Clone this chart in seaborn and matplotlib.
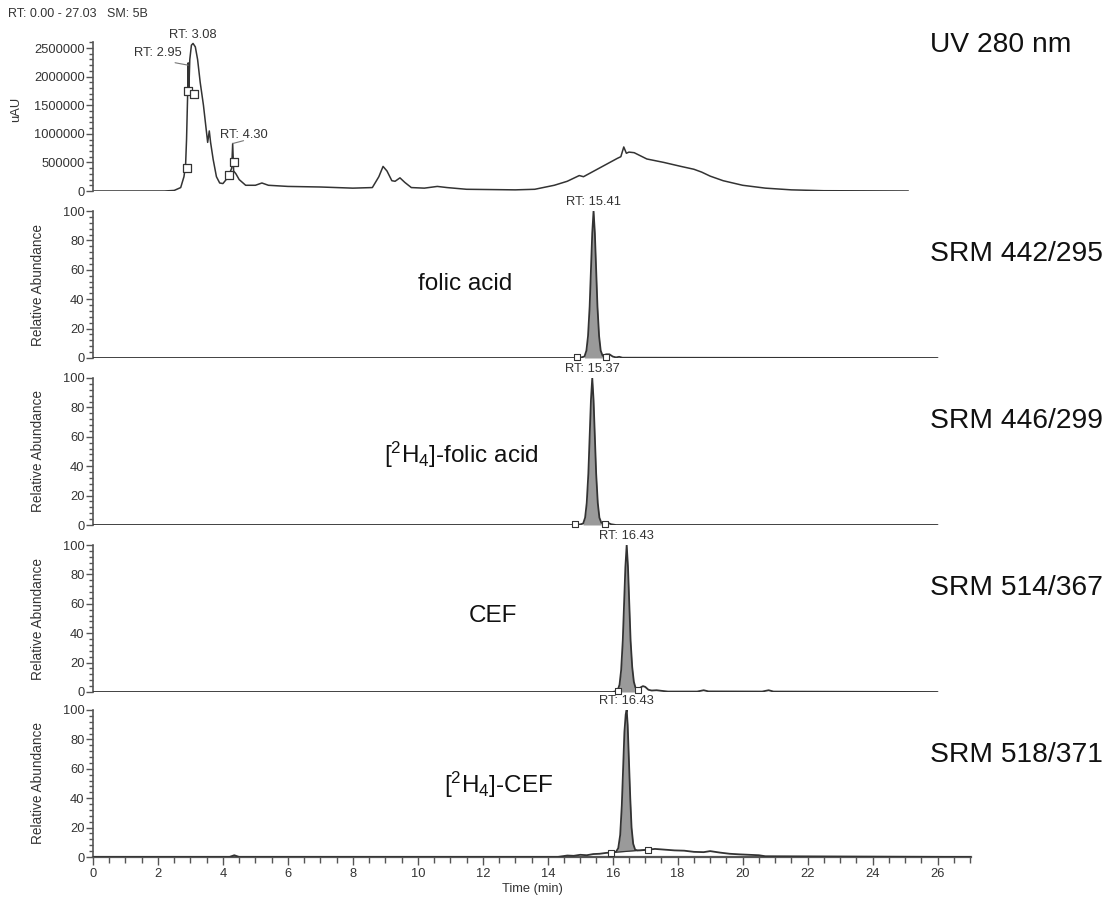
import numpy as np
import pandas as pd
import matplotlib
matplotlib.use("Agg")
import matplotlib.pyplot as plt
import seaborn as sns
from matplotlib.ticker import MultipleLocator, FixedLocator

# ---------------- data ----------------
uv_time = [0, 2.2, 2.5, 2.7, 2.8, 2.85, 2.88, 2.91, 2.93, 2.95, 2.98, 3.03, 3.08, 3.15, 3.22,
           3.3, 3.4, 3.48, 3.53, 3.58, 3.62, 3.7, 3.8, 3.9, 4.0, 4.1, 4.2, 4.27, 4.3, 4.33,
           4.4, 4.5, 4.7, 5.0, 5.2, 5.4, 6.0, 7.0, 8.0, 8.6, 8.8, 8.93, 9.05, 9.2, 9.3, 9.45,
           9.6, 9.8, 10.2, 10.6, 10.9, 11.5, 13.0, 13.6, 14.2, 14.6, 14.97, 15.1, 15.36,
           15.75, 16.14, 16.25, 16.34, 16.42, 16.5, 16.66, 17.05, 17.57, 18.1, 18.5, 18.74,
           19.0, 19.4, 20.0, 20.7, 21.5, 22.5, 25.1]
uv_value = [0, 0, 0.01e6, 0.06e6, 0.25e6, 0.45e6, 0.9e6, 1.6e6, 2.24e6, 1.75e6, 2.3e6,
            2.55e6, 2.58e6, 2.52e6, 2.3e6, 1.9e6, 1.5e6, 1.1e6, 0.85e6, 1.05e6, 0.85e6,
            0.55e6, 0.25e6, 0.14e6, 0.13e6, 0.2e6, 0.3e6, 0.4e6, 0.83e6, 0.35e6, 0.3e6,
            0.2e6, 0.1e6, 0.1e6, 0.14e6, 0.1e6, 0.08e6, 0.07e6, 0.05e6, 0.06e6, 0.25e6,
            0.43e6, 0.35e6, 0.18e6, 0.17e6, 0.23e6, 0.15e6, 0.06e6, 0.05e6, 0.08e6, 0.06e6,
            0.03e6, 0.02e6, 0.03e6, 0.1e6, 0.17e6, 0.27e6, 0.25e6, 0.33e6, 0.45e6, 0.57e6,
            0.6e6, 0.77e6, 0.66e6, 0.68e6, 0.67e6, 0.56e6, 0.5e6, 0.43e6, 0.38e6, 0.33e6,
            0.26e6, 0.18e6, 0.1e6, 0.05e6, 0.02e6, 0.005e6, 0]
uv_mark_t = [2.88, 2.92, 3.1, 4.2, 4.35]
uv_mark_v = [0.4e6, 1.74e6, 1.7e6, 0.28e6, 0.5e6]

# SRM 442/295 - folic acid
fa_time = [0, 14.9, 15.05, 15.13, 15.19, 15.24, 15.29, 15.33, 15.37, 15.41, 15.45, 15.49,
           15.53, 15.58, 15.63, 15.69, 15.8, 15.9, 16.0, 16.1, 16.2, 16.3, 26.0]
fa_value = [0, 0, 0.5, 1, 5, 15, 35, 60, 85, 100, 85, 60, 35, 15, 5, 1.5, 2.5, 2.5, 1, 0.4,
            0.8, 0.2, 0]
fa_fill = (15.13, 15.69)
fa_mark_t = [14.9, 15.8]
fa_mark_v = [0.5, 1.0]

# SRM 446/299 - [2H4]-folic acid
dfa_time = [0, 14.8, 15.0, 15.09, 15.15, 15.2, 15.25, 15.29, 15.33, 15.37, 15.41, 15.45,
            15.49, 15.54, 15.59, 15.65, 15.75, 15.85, 15.95, 16.1, 26.0]
dfa_value = [0, 0, 0.4, 1, 5, 15, 35, 60, 85, 100, 85, 60, 35, 15, 5, 1.5, 1.2, 1.5, 0.5, 0, 0]
dfa_fill = (15.09, 15.65)
dfa_mark_t = [14.85, 15.75]
dfa_mark_v = [0.5, 1.0]

# SRM 514/367 - CEF
cef_time = [0, 16.0, 16.1, 16.15, 16.21, 16.26, 16.31, 16.35, 16.39, 16.43, 16.47, 16.51,
            16.55, 16.6, 16.65, 16.7, 16.78, 16.85, 16.93, 17.0, 17.1, 17.2, 17.35, 17.5,
            17.7, 18.6, 18.8, 18.95, 20.6, 20.8, 20.95, 26.0]
cef_value = [0, 0, 0.5, 1, 5, 15, 35, 60, 85, 100, 85, 60, 35, 17, 7, 3, 1.5, 3, 4, 3.5,
             1.5, 1, 1.2, 0.8, 0.3, 0.3, 1.2, 0.4, 0.3, 1.2, 0.3, 0]
cef_fill = (16.15, 16.78)
cef_mark_t = [16.15, 16.78]
cef_mark_v = [1.0, 1.5]

# SRM 518/371 - [2H4]-CEF
dcef_time = [0, 4.2, 4.35, 4.5, 4.7, 14.3, 14.6, 14.8, 15.0, 15.2, 15.4, 15.6, 15.8, 15.95,
             16.1, 16.17, 16.23, 16.28, 16.32, 16.36, 16.4, 16.43, 16.46, 16.5, 16.54, 16.58,
             16.63, 16.69, 16.76, 16.85, 17.0, 17.1, 17.3, 17.6, 17.9, 18.2, 18.5, 18.8,
             19.0, 19.3, 19.6, 19.9, 20.2, 20.5, 20.7, 27.03]
dcef_value = [0, 0, 1.2, 0, 0, 0, 1, 0.8, 1.5, 1.2, 2, 2.2, 2.8, 3, 3.5, 6, 15, 35, 60, 85,
              97, 100, 90, 65, 40, 20, 9, 5, 4.5, 4.5, 4.8, 5, 5.5, 5, 4.5, 4.3, 3.5, 3.3,
              4, 3, 2.2, 1.8, 1.5, 1.2, 0.5, 0]
dcef_fill = (15.95, 17.1)
dcef_mark_t = [15.95, 17.1]
dcef_mark_v = [3.0, 5.0]

srm_labels = ["SRM 442/295", "SRM 446/299", "SRM 514/367", "SRM 518/371"]
compound_labels = ["folic acid", r"[$^2$H$_4$]-folic acid", "CEF", r"[$^2$H$_4$]-CEF"]
rt_labels = ["RT: 15.41", "RT: 15.37", "RT: 16.43", "RT: 16.43"]
rt_values = [15.41, 15.37, 16.43, 16.43]
x_ticks = [0, 2, 4, 6, 8, 10, 12, 14, 16, 18, 20, 22, 24, 26]
uv_ticks = [0, 500000, 1000000, 1500000, 2000000, 2500000]
rel_ticks = [0, 20, 40, 60, 80, 100]

# ---------------- style ----------------
sns.set_theme(style="white")
plt.rcParams["font.family"] = ["Liberation Sans", "DejaVu Sans"]
plt.rcParams["mathtext.fontset"] = "custom"
plt.rcParams["mathtext.rm"] = "Liberation Sans"
plt.rcParams["mathtext.it"] = "Liberation Sans"
plt.rcParams["mathtext.default"] = "regular"

AX_COL = "#555555"
LINE_COL = "#333333"
TXT_COL = "#333333"
XMAX = 27.03
SMALL = 9.3
BIG = 20.3

fig = plt.figure(figsize=(11.14, 8.99), dpi=100)
L, W = 93 / 1114, 878 / 1114


def fy(p):
    return 1 - p / 899


def style_axis(ax, bottom=False):
    for s in ["top", "right"]:
        ax.spines[s].set_visible(False)
    ax.spines["left"].set_color(AX_COL)
    ax.spines["left"].set_linewidth(1.2)
    if bottom:
        ax.spines["bottom"].set_color(AX_COL)
        ax.spines["bottom"].set_linewidth(1.6)
    else:
        ax.spines["bottom"].set_visible(False)
    ax.tick_params(axis="y", which="major", direction="out", length=5, width=1,
                   color=AX_COL, labelsize=SMALL, labelcolor=TXT_COL, pad=1, left=True)
    ax.tick_params(axis="y", which="minor", direction="out", length=3, width=1,
                   color=AX_COL, left=True)
    ax.set_xlim(0, XMAX)
    ax.set_facecolor("white")
    ax.grid(False)


# ---- UV panel ----
ax1 = fig.add_axes([L, fy(191), W, (191 - 42.3) / 899])
sns.lineplot(x=uv_time, y=uv_value, ax=ax1, color=LINE_COL, linewidth=1.1,
             estimator=None, sort=False)
ax1.scatter(uv_mark_t, uv_mark_v, marker="s", s=28, facecolors="white",
            edgecolors=LINE_COL, linewidths=0.9, zorder=5)
ax1.set_ylim(0, 2.6e6)
style_axis(ax1)
ax1.yaxis.set_major_locator(FixedLocator(uv_ticks))
ax1.yaxis.set_minor_locator(MultipleLocator(100000))
ax1.set_yticklabels([str(v) for v in uv_ticks])
ax1.set_xticks([])
ax1.set_ylabel("uAU", fontsize=SMALL, color=TXT_COL)
ax1.yaxis.set_label_coords(-0.081, 0.55)
ax1.set_xlabel("")
ax1.annotate("RT: 3.08", xy=(3.08, 2.58e6), xytext=(0, 2), textcoords="offset points",
             ha="center", va="bottom", fontsize=SMALL, color=TXT_COL, annotation_clip=False)
ax1.annotate("RT: 2.95", xy=(2.93, 2.2e6), xytext=(1.25, 2.3e6), textcoords="data",
             ha="left", va="bottom", fontsize=SMALL, color=TXT_COL, annotation_clip=False,
             arrowprops=dict(arrowstyle="-", color="#777777", lw=0.8,
                             shrinkA=0, shrinkB=0, relpos=(0.5, 0)))
ax1.annotate("RT: 4.30", xy=(4.3, 0.83e6), xytext=(3.9, 0.88e6), textcoords="data",
             ha="left", va="bottom", fontsize=SMALL, color=TXT_COL, annotation_clip=False,
             arrowprops=dict(arrowstyle="-", color="#777777", lw=0.8,
                             shrinkA=0, shrinkB=0, relpos=(0.5, 0)))
fig.text(8 / 1114, fy(14), "RT: 0.00 - 27.03   SM: 5B", fontsize=9, color=TXT_COL,
         va="center", ha="left")
fig.text(930 / 1114, fy(45), "UV 280 nm", fontsize=BIG, color="#111111",
         va="center", ha="left")

# ---- SRM panels ----
panels = [
    (fa_time, fa_value, fa_fill, fa_mark_t, fa_mark_v, 358),
    (dfa_time, dfa_value, dfa_fill, dfa_mark_t, dfa_mark_v, 525),
    (cef_time, cef_value, cef_fill, cef_mark_t, cef_mark_v, 692),
    (dcef_time, dcef_value, dcef_fill, dcef_mark_t, dcef_mark_v, 857),
]
label_pos = [(11.45, 50), (11.35, 48), (12.3, 52), (12.5, 49)]
right_y = [254, 421, 588, 755]

for i, (tt, vv, (f0, f1), mt, mv, base) in enumerate(panels):
    last = i == len(panels) - 1
    ax = fig.add_axes([L, fy(base), W, 147 / 899])
    t_arr = np.array(tt)
    v_arr = np.array(vv)
    m = (t_arr >= f0) & (t_arr <= f1)
    y2 = np.interp(t_arr[m], mt, mv) if last else np.zeros(m.sum())
    ax.fill_between(t_arr[m], v_arr[m], y2, color="#9a9a9a", linewidth=0, zorder=1)
    sns.lineplot(x=tt, y=vv, ax=ax, color=LINE_COL, linewidth=1.3,
                 estimator=None, sort=False, zorder=3)
    if last:
        ax.plot(mt, mv, color=LINE_COL, linewidth=0.9, zorder=3)
    ax.scatter(mt, mv, marker="s", s=24, facecolors="white", edgecolors=LINE_COL,
               linewidths=0.8, zorder=5, clip_on=False)
    ax.set_ylim(0, 100)
    style_axis(ax, bottom=last)
    ax.yaxis.set_major_locator(FixedLocator(rel_ticks))
    ax.yaxis.set_minor_locator(MultipleLocator(4))
    ax.set_yticklabels([str(v) for v in rel_ticks])
    ax.set_ylabel("Relative Abundance", fontsize=9.8, color=TXT_COL)
    ax.yaxis.set_label_coords(-0.055, 0.5)
    ax.annotate(rt_labels[i], xy=(rt_values[i], 100), xytext=(0, 2),
                textcoords="offset points", ha="center", va="bottom", fontsize=SMALL,
                color=TXT_COL, annotation_clip=False)
    ax.text(label_pos[i][0], label_pos[i][1], compound_labels[i], fontsize=17.5,
            color="#111111", ha="center", va="center")
    fig.text(930 / 1114, fy(right_y[i]), srm_labels[i], fontsize=BIG, color="#111111",
             va="center", ha="left")
    if last:
        ax.xaxis.set_major_locator(FixedLocator(x_ticks))
        ax.xaxis.set_minor_locator(MultipleLocator(0.5))
        ax.set_xticklabels([str(v) for v in x_ticks])
        ax.tick_params(axis="x", which="major", direction="out", length=6, width=1,
                       color=AX_COL, labelsize=SMALL, labelcolor=TXT_COL, bottom=True, pad=2)
        ax.tick_params(axis="x", which="minor", direction="out", length=4, width=1,
                       color=AX_COL, bottom=True)
        ax.set_xlabel("Time (min)", fontsize=SMALL, color=TXT_COL, labelpad=2)
    else:
        ax.set_xticks([])
        ax.set_xlabel("")

fig.savefig("out.png", dpi=100, facecolor="white")
